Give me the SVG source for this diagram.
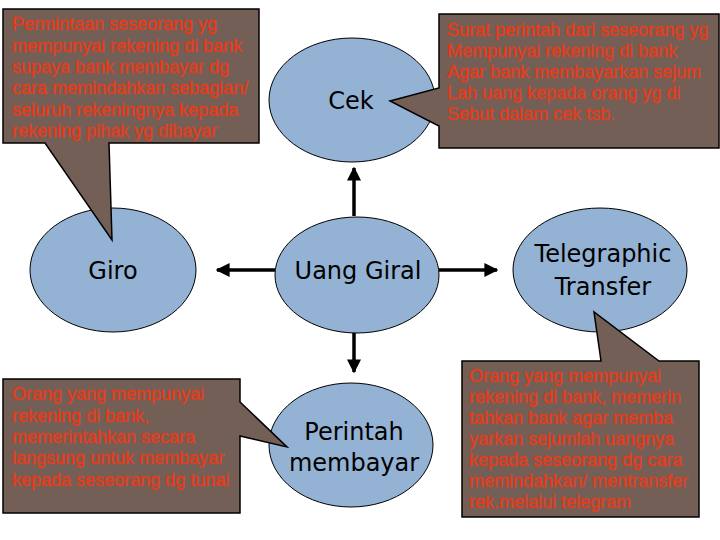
<svg xmlns="http://www.w3.org/2000/svg" width="720" height="540" viewBox="0 0 720 540">
<defs>
<style>
.node ellipse{fill:#94B3D4;stroke:#000;stroke-width:1}
.lbl{font-family:"Comic Sans MS","DejaVu Sans",sans-serif;font-size:24px;fill:#000;text-anchor:middle}
.callout path{fill:#745F56;stroke:#000;stroke-width:1.5}
.ct{font-family:"Liberation Sans",Arial,sans-serif;font-size:18px;fill:#E63B1A;stroke:#E63B1A;stroke-width:0.35}
.conn line{stroke:#000;stroke-width:3.5}
</style>
<marker id="ah" viewBox="0 0 10 10" refX="9" refY="5" markerWidth="4" markerHeight="4" orient="auto" markerUnits="strokeWidth">
<path d="M0,0 L10,5 L0,10 Z" fill="#000"/>
</marker>
</defs>
<rect width="720" height="540" fill="#fff"/>

<g id="node-cek" class="node">
<ellipse cx="352" cy="100" rx="83" ry="62"/>
<text class="lbl" x="351" y="109">Cek</text>
</g>
<g id="node-giro" class="node">
<ellipse cx="113" cy="270" rx="83" ry="62"/>
<text class="lbl" x="113" y="279">Giro</text>
</g>
<g id="node-uang-giral" class="node">
<ellipse cx="357" cy="275" rx="82" ry="58"/>
<text class="lbl" x="358" y="279">Uang Giral</text>
</g>
<g id="node-tt" class="node">
<ellipse cx="600" cy="270" rx="87" ry="62"/>
<text class="lbl" x="603" y="262">Telegraphic</text>
<text class="lbl" x="603" y="295">Transfer</text>
</g>
<g id="node-perintah" class="node">
<ellipse cx="351" cy="445" rx="82" ry="62"/>
<text class="lbl" x="354" y="440">Perintah</text>
<text class="lbl" x="354" y="471">membayar</text>
</g>

<g id="connectors" class="conn">
<line x1="354" y1="216" x2="354" y2="168" marker-end="url(#ah)"/>
<line x1="275" y1="270" x2="217" y2="270" marker-end="url(#ah)"/>
<line x1="439" y1="270" x2="497" y2="270" marker-end="url(#ah)"/>
<line x1="354" y1="333" x2="354" y2="372" marker-end="url(#ah)"/>
</g>

<g id="callout-giro" class="callout">
<path d="M3,9 H259 V143 H109 L112,240 L45,143 H3 Z"/>
<text class="ct" x="12" y="30">Permintaan seseorang yg</text>
<text class="ct" x="12" y="51.5">mempunyai rekening di bank</text>
<text class="ct" x="12" y="73">supaya bank membayar dg</text>
<text class="ct" x="12" y="94">cara memindahkan sebagian/</text>
<text class="ct" x="12" y="115.5">seluruh rekeningnya kepada</text>
<text class="ct" x="12" y="137">rekening pihak yg dibayar</text>
</g>
<g id="callout-cek" class="callout">
<path d="M439,14 H719 V148 H439 V126 L390,101 L439,88 Z"/>
<text class="ct" x="447" y="36">Surat perintah dari seseorang yg</text>
<text class="ct" x="447" y="57">Mempunyai rekening di bank</text>
<text class="ct" x="447" y="78">Agar bank membayarkan sejum</text>
<text class="ct" x="447" y="99">Lah uang kepada orang yg di</text>
<text class="ct" x="447" y="120">Sebut dalam cek tsb.</text>
</g>
<g id="callout-perintah" class="callout">
<path d="M3,379 H240 V402 L287,447 L240,436 V513 H3 Z"/>
<text class="ct" x="12" y="400">Orang yang mempunyai</text>
<text class="ct" x="12" y="421.5">rekening di bank,</text>
<text class="ct" x="12" y="443">memerintahkan secara</text>
<text class="ct" x="12" y="464">langsung untuk membayar</text>
<text class="ct" x="12" y="486">kepada seseorang dg tunai</text>
</g>
<g id="callout-tt" class="callout">
<path d="M462,361 H601 L594,312 L659,361 H699 V517 H462 Z"/>
<text class="ct" x="469" y="382">Orang yang mempunyai</text>
<text class="ct" x="469" y="403">rekening di bank, memerin</text>
<text class="ct" x="469" y="424">tahkan bank agar memba</text>
<text class="ct" x="469" y="445">yarkan sejumlah uangnya</text>
<text class="ct" x="469" y="466">kepada seseorang dg cara</text>
<text class="ct" x="469" y="487">memindahkan/ mentransfer</text>
<text class="ct" x="469" y="508">rek.melalui telegram</text>
</g>
</svg>
